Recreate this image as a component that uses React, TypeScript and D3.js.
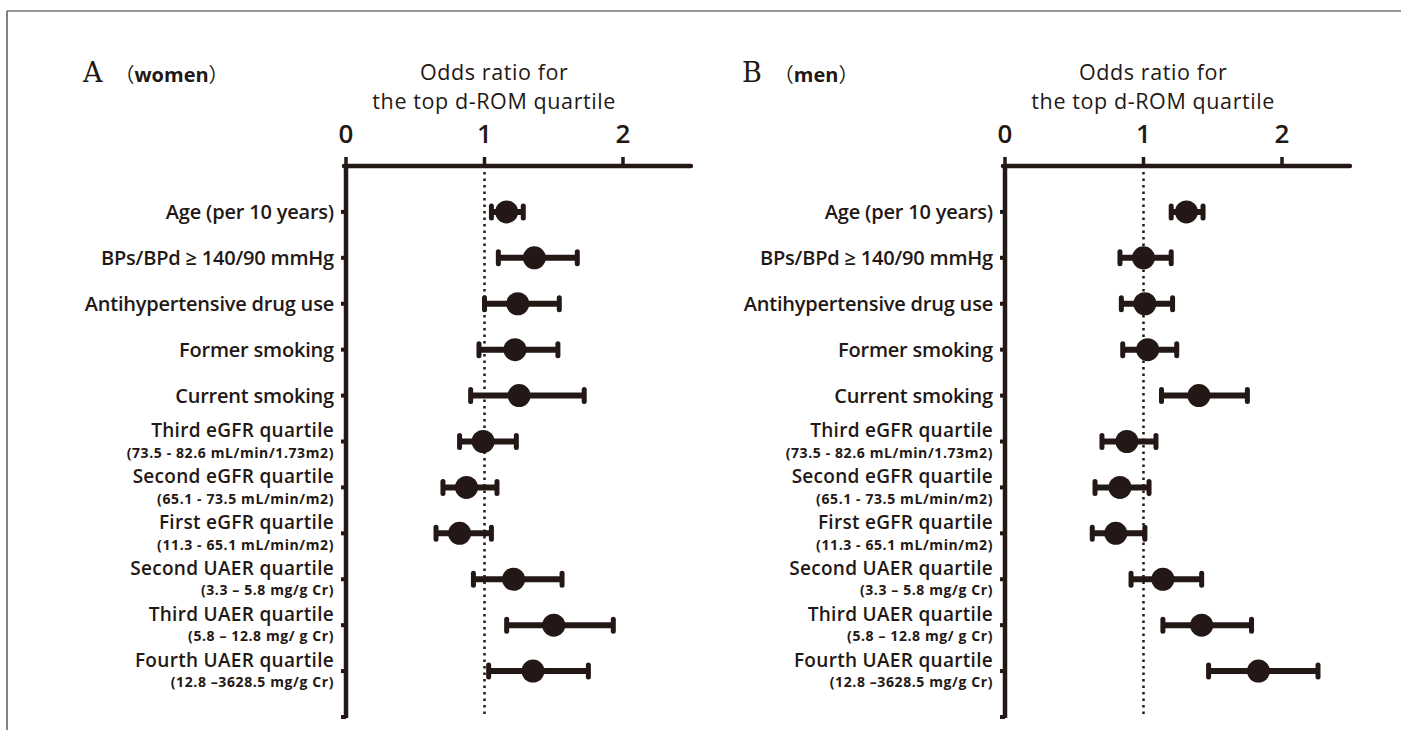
import React from 'react';
import * as d3 from 'd3';

const INK = '#231815';

// row labels (main line + optional range line)
const labels = [
  'Age (per 10 years)',
  'BPs/BPd \u2265 140/90 mmHg',
  'Antihypertensive drug use',
  'Former smoking',
  'Current smoking',
  'Third eGFR quartile',
  'Second eGFR quartile',
  'First eGFR quartile',
  'Second UAER quartile',
  'Third UAER quartile',
  'Fourth UAER quartile',
];
const subLabels = [
  '', '', '', '', '',
  '(73.5 - 82.6 mL/min/1.73m2)',
  '(65.1 - 73.5 mL/min/m2)',
  '(11.3 - 65.1 mL/min/m2)',
  '(3.3 \u2013 5.8 mg/g Cr)',
  '(5.8 \u2013 12.8 mg/ g Cr)',
  '(12.8 \u20133628.5  mg/g Cr)',
];

// women
const womenOR = [1.16, 1.36, 1.24, 1.22, 1.25, 0.99, 0.87, 0.82, 1.21, 1.50, 1.35];
const womenLo = [1.05, 1.10, 1.00, 0.96, 0.90, 0.82, 0.70, 0.65, 0.92, 1.16, 1.03];
const womenHi = [1.28, 1.67, 1.54, 1.53, 1.72, 1.23, 1.09, 1.05, 1.56, 1.93, 1.75];

// men
const menOR = [1.31, 1.00, 1.01, 1.03, 1.40, 0.88, 0.83, 0.80, 1.14, 1.42, 1.83];
const menLo = [1.20, 0.83, 0.84, 0.85, 1.13, 0.70, 0.65, 0.63, 0.91, 1.14, 1.47];
const menHi = [1.43, 1.20, 1.21, 1.24, 1.75, 1.09, 1.04, 1.01, 1.42, 1.78, 2.26];

const xTicks = [0, 1, 2];
const axisTitle = ['Odds ratio for', 'the top d-ROM quartile'];

const SANS = '"Open Sans", "Noto Sans", sans-serif';

function Panel({ x0, letter, group, or, lo, hi }) {
  const x = d3.scaleLinear().domain([0, 1]).range([x0, x0 + 138.5]);
  const y = d3.scaleLinear().domain([0, 12]).range([166, 717]);
  const axisEnd = x(2.49);
  const rows = d3.range(labels.length);
  const capH = 6;
  return (
    <g>
      <text x={x0 - 263} y={82} fill={INK}>
        <tspan fontFamily='"DejaVu Serif", serif' fontSize={27}>{letter}</tspan>
        <tspan fontFamily='"Noto Sans CJK JP", sans-serif' fontSize={20} dx={12}>{'\uFF08'}</tspan>
        <tspan fontFamily={SANS} fontSize={20} fontWeight={700}>{group}</tspan>
        <tspan fontFamily='"Noto Sans CJK JP", sans-serif' fontSize={20}>{'\uFF09'}</tspan>
      </text>
      {axisTitle.map((t, i) => (
        <text key={t} x={x(1.07)} y={79.5 + i * 29.5} textAnchor="middle" fontFamily={SANS}
          fontSize={21.5} fill={INK} letterSpacing={0.6}>{t}</text>
      ))}
      {xTicks.map(t => (
        <g key={t}>
          <text x={x(t)} y={143} textAnchor="middle" fontFamily={SANS} fontSize={26}
            fontWeight={600} fill={INK}>{t}</text>
          <line x1={x(t)} x2={x(t)} y1={y(0) - 9} y2={y(0)} stroke={INK} strokeWidth={3.5} />
        </g>
      ))}
      <line x1={x(0) - 2} x2={axisEnd} y1={y(0)} y2={y(0)} stroke={INK} strokeWidth={4.5} strokeLinecap="round" />
      <line x1={x(0)} x2={x(0)} y1={y(0) - 2} y2={y(12) + 1} stroke={INK} strokeWidth={4.5} />
      {d3.range(1, 13).map(i => (
        <line key={i} x1={x(0) - 5} x2={x(0)} y1={y(i)} y2={y(i)} stroke={INK} strokeWidth={4} />
      ))}
      <line x1={x(1)} x2={x(1)} y1={y(0) + 6} y2={y(12)} stroke={INK} strokeWidth={2.5}
        strokeDasharray="2.5,4" />
      {rows.map(i => {
        const cy = y(i + 1);
        const two = subLabels[i] !== '';
        const lx = x(0) - 12;
        return (
          <g key={labels[i]}>
            <text x={lx} y={two ? cy - 4.5 : cy + 7} textAnchor="end" fontFamily={SANS}
              fontSize={two ? 19 : 20} fontWeight={600} fill={INK}
              letterSpacing={two ? 0.3 : -0.2}>{labels[i]}</text>
            {two && (
              <text x={lx} y={cy + 16.2} textAnchor="end" fontFamily={SANS} fontSize={14}
                fontWeight={700} fill={INK} letterSpacing={0.6}>{subLabels[i]}</text>
            )}
            <line x1={x(lo[i])} x2={x(hi[i])} y1={cy} y2={cy} stroke={INK} strokeWidth={6} />
            {[lo[i], hi[i]].map((v, k) => (
              <line key={k} x1={x(v)} x2={x(v)} y1={cy - capH} y2={cy + capH} stroke={INK}
                strokeWidth={5} strokeLinecap="round" />
            ))}
            <circle cx={x(or[i])} cy={cy} r={11.5} fill={INK} />
          </g>
        );
      })}
    </g>
  );
}

export default function App() {
  return (
    <svg width={1401} height={730} style={{ position: 'absolute', left: 0, top: 0, background: '#fff' }}>
      <rect x={0} y={0} width={1401} height={730} fill="#fff" />
      <line x1={7} x2={1401} y1={11} y2={11} stroke="#333" strokeWidth={1.2} />
      <line x1={7} x2={7} y1={11} y2={730} stroke="#333" strokeWidth={1.2} />
      <Panel x0={346} letter="A" group="women" or={womenOR} lo={womenLo} hi={womenHi} />
      <Panel x0={1005} letter="B" group="men" or={menOR} lo={menLo} hi={menHi} />
    </svg>
  );
}
